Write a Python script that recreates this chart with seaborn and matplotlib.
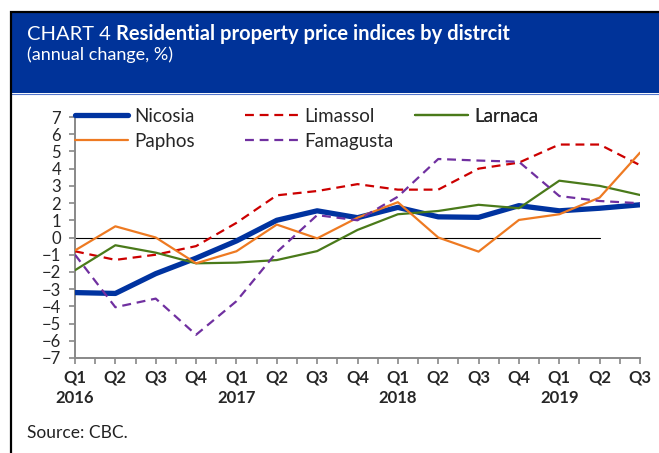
import numpy as np
import pandas as pd
import matplotlib
matplotlib.use("Agg")
import matplotlib.pyplot as plt
from matplotlib.patches import Rectangle
import seaborn as sns

# Data (annual change, %)
quarters = ["Q1", "Q2", "Q3", "Q4", "Q1", "Q2", "Q3", "Q4",
            "Q1", "Q2", "Q3", "Q4", "Q1", "Q2", "Q3"]
years = ["2016", "", "", "", "2017", "", "", "",
         "2018", "", "", "", "2019", "", ""]
nicosia = [-3.2, -3.25, -2.1, -1.2, -0.2, 1.0, 1.55, 1.15,
           1.75, 1.2, 1.17, 1.85, 1.55, 1.7, 1.9]
limassol = [-0.8, -1.3, -1.0, -0.5, 0.85, 2.45, 2.7, 3.1,
            2.78, 2.78, 4.0, 4.35, 5.4, 5.4, 4.2]
larnaca = [-1.9, -0.45, -0.88, -1.5, -1.46, -1.31, -0.79, 0.44,
           1.35, 1.54, 1.9, 1.7, 3.3, 3.0, 2.47]
paphos = [-0.75, 0.65, 0.0, -1.5, -0.8, 0.75, -0.05, 1.15,
          2.05, 0.0, -0.82, 1.02, 1.35, 2.32, 4.93]
famagusta = [-1.0, -4.05, -3.55, -5.65, -3.7, -0.85, 1.3, 1.0,
             2.37, 4.56, 4.47, 4.4, 2.41, 2.12, 1.99]

series = {"Nicosia": nicosia, "Limassol": limassol, "Larnaca": larnaca,
          "Paphos": paphos, "Famagusta": famagusta}
styles = {
    "Nicosia": dict(color="#0033A0", lw=3.8, ls="-"),
    "Limassol": dict(color="#CC0000", lw=1.6, ls=(0, (4, 2.6))),
    "Larnaca": dict(color="#4A7A1A", lw=1.6, ls="-"),
    "Paphos": dict(color="#EE7A22", lw=1.6, ls="-"),
    "Famagusta": dict(color="#7030A0", lw=1.6, ls=(0, (4, 2.6))),
}
# legend columns as in the original (x position of each column in px)
legend_cols = [(["Nicosia", "Paphos"], 75),
               (["Limassol", "Famagusta"], 245),
               (["Larnaca"], 415)]

df = pd.DataFrame(series)
df["idx"] = np.arange(len(quarters))

sns.set_style("white")
plt.rcParams["font.family"] = ["Lato", "DejaVu Sans"]

W, H = 659, 453
fig = plt.figure(figsize=(W / 100, H / 100), dpi=100)

# frame and blue header
fig.add_artist(Rectangle((10.5 / W, -0.1), 1.0, (H - 11.5) / H + 0.1,
                         transform=fig.transFigure, fill=False,
                         edgecolor="black", lw=1.6, zorder=5))
fig.add_artist(Rectangle((11 / W, 1 - 93 / H), 1.0, 81 / H,
                         transform=fig.transFigure, facecolor="#003399",
                         edgecolor="none", zorder=1))
fig.add_artist(plt.Line2D([11 / W, 1], [1 - 93.5 / H, 1 - 93.5 / H],
                          transform=fig.transFigure, color="#5577cc", lw=0.8))

t1 = fig.text(27 / W, 1 - 40 / H, "CHART 4", color="white", fontsize=14.5,
              ha="left", va="baseline")
fig.canvas.draw()
x_end = t1.get_window_extent().x1 + 5
fig.text(x_end / W, 1 - 40 / H, "Residential property price indices by distrcit",
         color="white", fontsize=14.5, fontweight="bold", ha="left", va="baseline")
fig.text(27 / W, 1 - 60 / H, "(annual change, %)", color="white",
         fontsize=13, ha="left", va="baseline")
fig.text(27 / W, 1 - 438 / H, "Source: CBC.", color="#222222",
         fontsize=12.5, ha="left", va="baseline")

ax = fig.add_axes([75 / W, 1 - 358 / H, (640 - 75) / W, (358 - 117) / H])

ax.plot([0, 13], [0, 0], color="black", lw=0.8, zorder=1)
handles = {}
for name in series:
    st = styles[name]
    sns.lineplot(data=df, x="idx", y=name, ax=ax, color=st["color"],
                 lw=st["lw"], ls=st["ls"], zorder=3)
    handles[name] = ax.lines[-1]

ax.set_xlim(0, len(quarters) - 1)
ax.set_ylim(-7, 7)
ax.set_yticks(range(-7, 8))
ax.set_xticks(df["idx"])
ax.set_xticklabels([q + "\n" + y for q, y in zip(quarters, years)],
                   fontweight="bold", fontsize=12, linespacing=1.35)
ax.set_xticks(df["idx"][:-1] + 0.5, minor=True)
ax.tick_params(axis="y", labelsize=12, length=4, width=1.2, color="#888888",
               direction="out", pad=6, left=True)
ax.tick_params(axis="x", which="both", length=4, width=1.2, color="#888888",
               direction="out", pad=4, bottom=True)
ax.set_xlabel("")
ax.set_ylabel("")

for side in ["top", "right"]:
    ax.spines[side].set_visible(False)
for side in ["left", "bottom"]:
    ax.spines[side].set_color("#888888")
    ax.spines[side].set_linewidth(1.4)

ax_h = (358 - 117)
ax_w = (640 - 75)
for names, px in legend_cols:
    leg = ax.legend([handles[n] for n in names], names, loc="upper left",
                    bbox_to_anchor=((px - 75) / ax_w, (358 - 108) / ax_h),
                    frameon=False, fontsize=13.5, handlelength=2.85,
                    handletextpad=0.3, labelspacing=0.4,
                    borderaxespad=0, borderpad=0)
    ax.add_artist(leg)

fig.savefig("out.png", dpi=100)
